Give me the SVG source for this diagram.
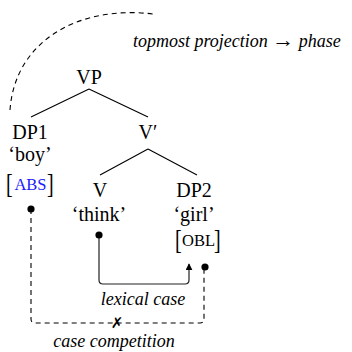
<svg xmlns="http://www.w3.org/2000/svg" width="352" height="352" viewBox="0 0 352 352">
<style>
text{font-family:"Liberation Serif","DejaVu Serif",serif}
.t{font-size:20px;fill:#000;text-anchor:middle}
.it{font-size:18px;font-style:italic;fill:#000}
.sc{font-size:16.5px;text-anchor:middle}
.br{font-size:20px;fill:#000}
.x{font-family:"DejaVu Sans",sans-serif;font-size:15px;font-weight:bold;text-anchor:middle}
.edge{stroke:#000;stroke-width:1.1;fill:none}
.dash{stroke:#000;stroke-width:1.1;fill:none;stroke-dasharray:5,4}
.solid{stroke:#222;stroke-width:1.2;fill:none}
.dot{fill:#000}
</style>
<defs>
<marker id="ah" viewBox="0 0 10 10" refX="9" refY="5" markerWidth="7" markerHeight="7" markerUnits="userSpaceOnUse" orient="auto">
<path d="M0,0 L10,5 L0,10 z" fill="#000"/>
</marker>
</defs>
<g id="connectors">
<path class="edge" d="M89,89 L31,117 M89,89 L148,117"/>
<path class="edge" d="M148,149 L100,175 M148,149 L197,175"/>
<path class="dash" d="M10,110 C15,40 80,5 153,14"/>
<path class="solid" d="M99,235 V280 Q99,284 103,284 H185 Q189,284 189,280 V264" marker-end="url(#ah)"/>
<path class="dash" d="M31,209 V319 Q31,323 35,323 H200 Q204,323 204,319 V267"/>
</g>
<g id="VP"><text class="t" x="89" y="84">VP</text></g>
<g id="DP1">
<text class="t" x="30" y="139">DP1</text>
<text class="t" x="30" y="161">‘boy’</text>
<text class="br" transform="translate(6,192.5) scale(1,1.4)">[</text>
<text class="sc" x="30.5" y="190" fill="#1a1aff">ABS</text>
<text class="br" transform="translate(47,192.5) scale(1,1.4)">]</text>
<circle class="dot" cx="31" cy="209" r="3.6"/>
</g>
<g id="Vbar"><text class="t" x="148" y="139">V′</text></g>
<g id="V">
<text class="t" x="100" y="197">V</text>
<text class="t" x="99" y="221">‘think’</text>
<circle class="dot" cx="99" cy="235" r="3.6"/>
</g>
<g id="DP2">
<text class="t" x="194" y="197">DP2</text>
<text class="t" x="194" y="221">‘girl’</text>
<text class="br" transform="translate(175,248.5) scale(1,1.4)">[</text>
<text class="sc" x="198.5" y="246" fill="#000">OBL</text>
<text class="br" transform="translate(214,248.5) scale(1,1.4)">]</text>
<circle class="dot" cx="205" cy="267" r="3.6"/>
</g>
<g id="labels">
<text class="it" x="133" y="47">topmost projection <tspan font-style="normal" font-size="22">→</tspan> phase</text>
<text class="it" x="143" y="305" text-anchor="middle">lexical case</text>
<text class="it" x="114" y="347" text-anchor="middle">case competition</text>
<text class="x" x="117" y="328">✗</text>
</g>
</svg>
